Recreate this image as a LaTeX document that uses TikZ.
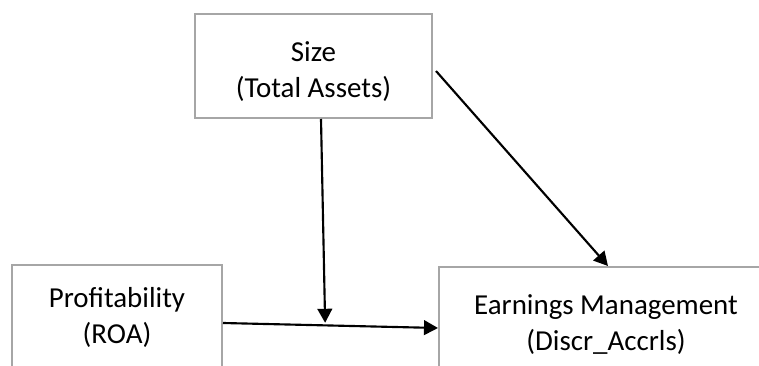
\documentclass[tikz,border=0pt]{standalone}
\usepackage{fontspec}
\setmainfont{Carlito}
\usepackage{xcolor}
\usetikzlibrary{arrows.meta, calc, positioning}
\definecolor{boxgray}{RGB}{166,166,166}

\begin{document}
\begin{tikzpicture}[x=0.75pt, y=-0.75pt, >={Triangle[length=10.5pt, width=11pt]},
        varbox/.style={draw=boxgray, line width=1.5pt, rectangle, align=center, inner sep=0pt,
            font=\fontsize{21.7}{27}\selectfont},
        conn/.style={->, line width=1.6pt, black}]
        \clip (0,0) rectangle (759,366);
        
        % Variables
        \node[varbox, minimum width=177.75pt, minimum height=78pt] (size) at (313.5,66) {\rule{0pt}{23pt}Size\\(Total Assets)};
        \node[varbox, minimum width=157.5pt, minimum height=78pt] (prof) at (117,317) {Profitability\\(ROA)};
        \node[varbox, minimum width=250.5pt, minimum height=87pt] (em) at (606,325) {Earnings Management\\(Discr\_Accrls)};
        
        % Paths
        \coordinate (join) at ($(prof.east)!0.475!(em.west)+(0,2)$);
        \draw[conn] ([shift={(0,6)}]prof.east) -- ([shift={(0,3)}]em.west);
        \draw[conn] ([shift={(7.5,0)}]size.south) -- (join);
        \draw[conn] ([shift={(3,5)}]size.east) -- ([shift={(2,0)}]em.north);
    \end{tikzpicture}
\end{document}
